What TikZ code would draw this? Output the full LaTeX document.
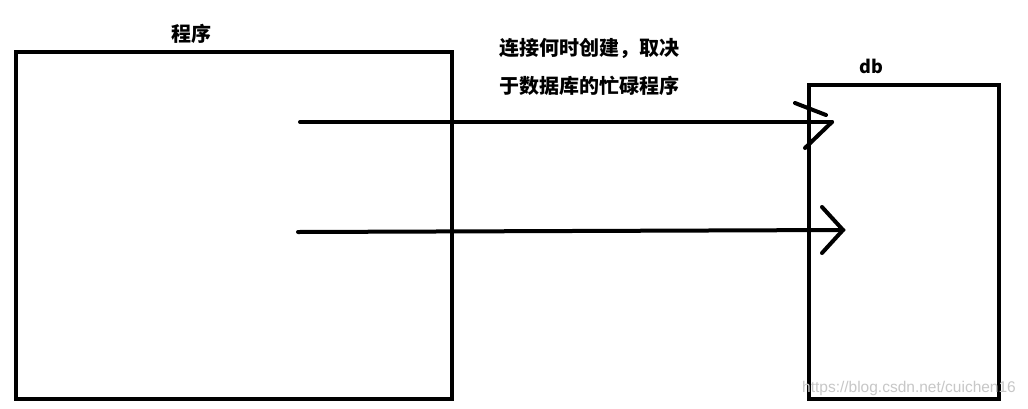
\documentclass[tikz,border=0pt]{standalone}
\usepackage{fontspec}
\setmainfont{Liberation Sans}
\newfontfamily\cjk{Noto Sans CJK SC}
\begin{document}
\begin{tikzpicture}[x=1pt,y=-1pt,
  box/.style={draw=black,line width=4pt,fill=none,inner sep=0pt},
  stroke/.style={line width=4pt,line cap=round,black},
  lbl/.style={inner sep=0pt,font=\cjk\bfseries\fontsize{20}{20}\selectfont}]
\useasboundingbox[fill=white] (0,0) rectangle (1028,408);
% boxes
\node[box,minimum width=436pt,minimum height=347pt] (prog) at (234,225.5) {};
\node[box,minimum width=190pt,minimum height=314pt] (db) at (904,242) {};
% labels
\node[lbl] (progl) at (191,34) {程序};
\node[inner sep=0pt,font=\cjk\bfseries\fontsize{18}{18}\selectfont] (dbl) at (871,66) {db};
\node[lbl,align=left] (note) at (589,67) {连接何时创建，取决\\[17pt]于数据库的忙碌程序};
% connector end points
\coordinate (a1) at (300,122);
\coordinate (b1) at (832,122);
\coordinate (a2) at (298,232);
\coordinate (b2) at (843,230);
\draw[stroke] (a1) -- (b1);
\draw[stroke] (a2) -- (b2);
% hand-drawn arrow heads
\coordinate (h1a) at (795,103);
\coordinate (h1b) at (826,115);
\coordinate (h1c) at (805,148);
\draw[stroke] (h1a) -- (h1b);
\draw[stroke] (b1) -- (h1c);
\coordinate (h2a) at (822,207);
\coordinate (h2c) at (822,253);
\draw[stroke] (h2a) -- (b2) -- (h2c);
% watermark
\node[inner sep=0pt,text=black!22,font=\fontsize{15.5}{15.5}\selectfont] (wm) at (909,388) {https://blog.csdn.net/cuichen16};
\end{tikzpicture}
\end{document}
